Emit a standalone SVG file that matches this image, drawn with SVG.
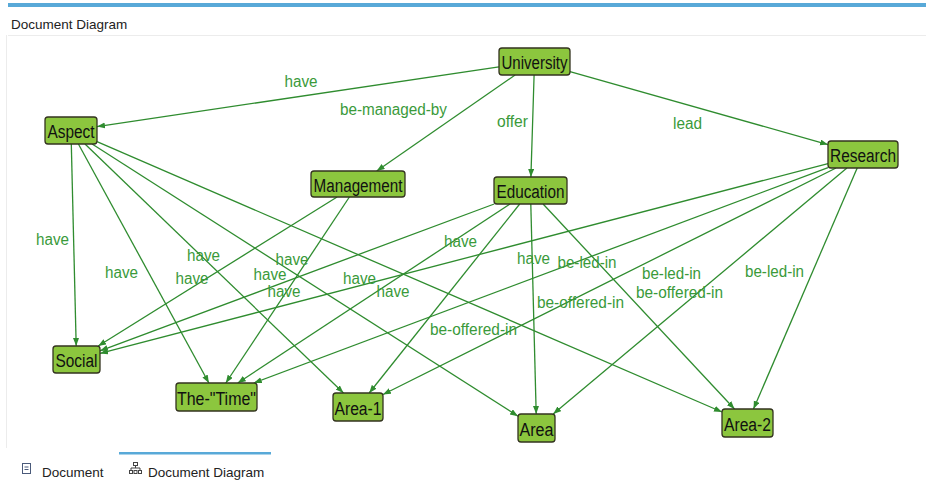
<svg xmlns="http://www.w3.org/2000/svg" width="926" height="481" viewBox="0 0 926 481">
<defs>
<style>
.e{stroke:#2f8c2f;stroke-width:1.3;fill:none;marker-end:url(#ah)}
.l{font-family:"Liberation Sans",Arial,sans-serif;font-size:16px;fill:#3a9a3a;text-anchor:middle}
.n rect{fill:#8cc63e;stroke:#33331f;stroke-width:1.3}
.n text{font-family:"Liberation Sans",Arial,sans-serif;font-size:18px;fill:#111;text-anchor:middle}
.ui{font-family:"Liberation Sans",Arial,sans-serif;font-size:13.5px;fill:#222}
</style>
<marker id="ah" markerUnits="userSpaceOnUse" markerWidth="9" markerHeight="7" refX="8" refY="3" orient="auto">
<path d="M0,0 L8,3 L0,6 z" fill="#2f8c2f"/>
</marker>
</defs>
<rect x="0" y="0" width="926" height="481" fill="#ffffff"/>
<rect x="8" y="3" width="918" height="4" fill="#58a9d8"/>
<text class="ui" x="11" y="29">Document Diagram</text>
<line x1="8" y1="35.5" x2="926" y2="35.5" stroke="#ececec" stroke-width="1"/>
<line x1="6.5" y1="35" x2="6.5" y2="448" stroke="#ececec" stroke-width="1"/>

<g id="connectors">
<line class="e" x1="499" y1="66.8" x2="97" y2="126.6"/>
<line class="e" x1="515.1" y1="75" x2="376.7" y2="171"/>
<line class="e" x1="534.1" y1="75" x2="530.9" y2="177"/>
<line class="e" x1="570" y1="71.6" x2="828" y2="144.6"/>
<line class="e" x1="71.3" y1="144" x2="76.2" y2="346"/>
<line class="e" x1="78.4" y1="144" x2="208.9" y2="383"/>
<line class="e" x1="85" y1="144" x2="343.5" y2="393"/>
<line class="e" x1="92.1" y1="144" x2="518" y2="416.2"/>
<line class="e" x1="97" y1="141.7" x2="722" y2="412"/>
<line class="e" x1="337.1" y1="197" x2="98.2" y2="346"/>
<line class="e" x1="349.4" y1="197" x2="225.8" y2="383"/>
<line class="e" x1="494.2" y1="204" x2="100" y2="350.8"/>
<line class="e" x1="510" y1="204" x2="237.8" y2="383"/>
<line class="e" x1="519.7" y1="204" x2="369.2" y2="393"/>
<line class="e" x1="530.8" y1="204" x2="536.2" y2="414"/>
<line class="e" x1="543.1" y1="204" x2="734.5" y2="409"/>
<line class="e" x1="828" y1="163.6" x2="100" y2="353.4"/>
<line class="e" x1="828" y1="167.6" x2="253.8" y2="383"/>
<line class="e" x1="836" y1="168" x2="383" y2="394.5"/>
<line class="e" x1="846.9" y1="168" x2="553.2" y2="414"/>
<line class="e" x1="857.2" y1="168" x2="753.5" y2="409"/>
</g>

<g id="labels">
<text class="l" x="301" y="87" textLength="33" lengthAdjust="spacingAndGlyphs">have</text>
<text class="l" x="393.5" y="115" textLength="107" lengthAdjust="spacingAndGlyphs">be-managed-by</text>
<text class="l" x="512.5" y="127" textLength="31" lengthAdjust="spacingAndGlyphs">offer</text>
<text class="l" x="687.5" y="129" textLength="29" lengthAdjust="spacingAndGlyphs">lead</text>
<text class="l" x="52.5" y="245" textLength="33" lengthAdjust="spacingAndGlyphs">have</text>
<text class="l" x="121.5" y="278" textLength="33" lengthAdjust="spacingAndGlyphs">have</text>
<text class="l" x="203.5" y="261" textLength="33" lengthAdjust="spacingAndGlyphs">have</text>
<text class="l" x="192" y="284" textLength="33" lengthAdjust="spacingAndGlyphs">have</text>
<text class="l" x="292" y="265" textLength="33" lengthAdjust="spacingAndGlyphs">have</text>
<text class="l" x="270" y="280" textLength="33" lengthAdjust="spacingAndGlyphs">have</text>
<text class="l" x="284" y="297" textLength="33" lengthAdjust="spacingAndGlyphs">have</text>
<text class="l" x="460.5" y="247" textLength="33" lengthAdjust="spacingAndGlyphs">have</text>
<text class="l" x="359.5" y="284" textLength="33" lengthAdjust="spacingAndGlyphs">have</text>
<text class="l" x="393" y="297" textLength="33" lengthAdjust="spacingAndGlyphs">have</text>
<text class="l" x="533.5" y="264" textLength="33" lengthAdjust="spacingAndGlyphs">have</text>
<text class="l" x="587" y="268" textLength="59" lengthAdjust="spacingAndGlyphs">be-led-in</text>
<text class="l" x="580.5" y="308" textLength="87" lengthAdjust="spacingAndGlyphs">be-offered-in</text>
<text class="l" x="473.5" y="335" textLength="87" lengthAdjust="spacingAndGlyphs">be-offered-in</text>
<text class="l" x="671.5" y="279" textLength="59" lengthAdjust="spacingAndGlyphs">be-led-in</text>
<text class="l" x="679.5" y="298" textLength="87" lengthAdjust="spacingAndGlyphs">be-offered-in</text>
<text class="l" x="774.5" y="277" textLength="59" lengthAdjust="spacingAndGlyphs">be-led-in</text>
</g>

<g id="University" class="n"><rect x="499" y="48" width="71" height="27" rx="3"/><text x="534.5" y="69" textLength="66" lengthAdjust="spacingAndGlyphs">University</text></g>
<g id="Aspect" class="n"><rect x="45" y="117" width="52" height="27" rx="3"/><text x="71" y="138" textLength="47" lengthAdjust="spacingAndGlyphs">Aspect</text></g>
<g id="Management" class="n"><rect x="311" y="171" width="94" height="26" rx="3"/><text x="358" y="191.5" textLength="89" lengthAdjust="spacingAndGlyphs">Management</text></g>
<g id="Education" class="n"><rect x="494" y="177" width="73" height="27" rx="3"/><text x="530.5" y="198" textLength="68" lengthAdjust="spacingAndGlyphs">Education</text></g>
<g id="Research" class="n"><rect x="828" y="141" width="70" height="27" rx="3"/><text x="863" y="162" textLength="66" lengthAdjust="spacingAndGlyphs">Research</text></g>
<g id="Social" class="n"><rect x="53" y="346" width="47" height="27" rx="3"/><text x="76.5" y="367" textLength="42" lengthAdjust="spacingAndGlyphs">Social</text></g>
<g id="The-Time" class="n"><rect x="176" y="383" width="81" height="28" rx="3"/><text x="216.5" y="404.5" textLength="79" lengthAdjust="spacingAndGlyphs">The-"Time"</text></g>
<g id="Area-1" class="n"><rect x="333" y="393" width="50" height="28" rx="3"/><text x="358" y="414.5" textLength="47" lengthAdjust="spacingAndGlyphs">Area-1</text></g>
<g id="Area" class="n"><rect x="518" y="414" width="37" height="28" rx="3"/><text x="536.5" y="435.5" textLength="34" lengthAdjust="spacingAndGlyphs">Area</text></g>
<g id="Area-2" class="n"><rect x="722" y="409" width="51" height="28" rx="3"/><text x="747.5" y="430.5" textLength="47" lengthAdjust="spacingAndGlyphs">Area-2</text></g>

<g id="tabs">
<rect x="119" y="452" width="152" height="2.5" fill="#58a9d8"/>
<rect x="22.5" y="463.5" width="8" height="10" fill="none" stroke="#4a5a7a" stroke-width="1"/>
<line x1="24.5" y1="467" x2="28.5" y2="467" stroke="#4a5a7a" stroke-width="1"/>
<line x1="24.5" y1="469.5" x2="28.5" y2="469.5" stroke="#4a5a7a" stroke-width="1"/>
<text class="ui" x="42" y="477">Document</text>
<g fill="none" stroke="#444" stroke-width="1">
<rect x="133.5" y="462.5" width="4" height="3"/>
<line x1="135.5" y1="465.5" x2="135.5" y2="468"/>
<line x1="131" y1="468" x2="140" y2="468"/>
<line x1="131" y1="468" x2="131" y2="470"/>
<line x1="140" y1="468" x2="140" y2="470"/>
<rect x="129.5" y="470.5" width="3" height="3"/>
<rect x="134" y="470.5" width="3" height="3"/>
<rect x="138.5" y="470.5" width="3" height="3"/>
</g>
<text class="ui" x="148" y="477">Document Diagram</text>
</g>
</svg>
